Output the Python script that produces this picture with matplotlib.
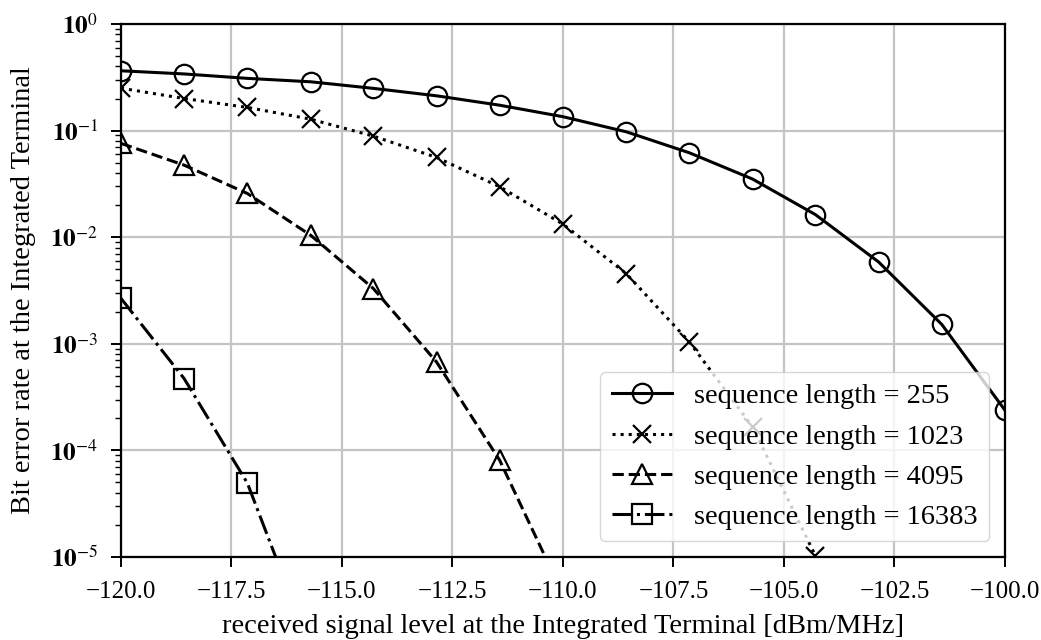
import matplotlib
matplotlib.use("Agg")
import matplotlib.pyplot as plt

plt.rcParams['font.family'] = ['Liberation Serif', 'DejaVu Serif']
plt.rcParams['mathtext.fontset'] = 'stix'

# received signal level [dBm/MHz] at marker positions (15 points, -120 .. -100)
x_pts = [-120.0, -118.57, -117.14, -115.71, -114.29, -112.86, -111.43, -110.0,
         -108.57, -107.14, -105.71, -104.29, -102.86, -101.43, -100.0]

ber_255 = [0.364, 0.34, 0.309, 0.287, 0.249, 0.212, 0.173, 0.135,
           0.0975, 0.0619, 0.0351, 0.0163, 0.00586, 0.00152, 2.38e-4]
ber_1023 = [0.25, 0.2, 0.165, 0.128, 0.0888, 0.056, 0.0297, 0.01325,
            0.00456, 0.00104, 1.66e-4, 1.03e-5]
ber_4095 = [0.0759, 0.0474, 0.0257, 0.01044, 0.0033, 6.75e-4, 8.05e-5]
ber_16383 = [0.00267, 4.71e-4, 4.93e-5]

# where the curves leave the bottom of the plot
end_4095 = (-110.4, 1e-5)
end_16383 = (-116.5, 1e-5)

labels = ["sequence length = 255", "sequence length = 1023",
          "sequence length = 4095", "sequence length = 16383"]

x_ticks = [-120, -117.5, -115, -112.5, -110, -107.5, -105, -102.5, -100]
y_exps = [0, -1, -2, -3, -4, -5]

fig = plt.figure(figsize=(10.41, 6.40), dpi=100)
ax = fig.add_axes([0.1162, 0.1297, 0.8492, 0.8328])

lw = 2.2
mew = 1.6
ax.plot(x_pts, ber_255, color='black', linestyle='-', linewidth=lw,
        marker='o', markersize=14, markerfacecolor='none', markeredgewidth=mew,
        label=labels[0])
ax.plot(x_pts[:len(ber_1023)], ber_1023, color='black', linestyle=':', linewidth=lw,
        marker='x', markersize=13, markeredgewidth=mew, label=labels[1])
x4 = x_pts[:len(ber_4095)] + [end_4095[0]]
y4 = ber_4095 + [end_4095[1]]
ax.plot(x4, y4, color='black', linestyle='--', linewidth=lw,
        marker='^', markersize=14, markerfacecolor='none', markeredgewidth=mew,
        markevery=list(range(len(ber_4095))), label=labels[2])
x16 = x_pts[:len(ber_16383)] + [end_16383[0]]
y16 = ber_16383 + [end_16383[1]]
ax.plot(x16, y16, color='black', linestyle='-.', linewidth=lw,
        marker='s', markersize=14, markerfacecolor='none', markeredgewidth=mew,
        markevery=list(range(len(ber_16383))), label=labels[3])

ax.set_yscale('log')
ax.set_xlim(-120, -100)
ax.set_ylim(1e-5, 1e0)
ax.set_xticks(x_ticks)
ax.set_xticklabels([f"\u2212{abs(v):.1f}" for v in x_ticks])
ax.set_yticks([10.0 ** e for e in y_exps])
ax.set_yticklabels([r'$\mathbf{10}^{%d}$' % e for e in y_exps])
ax.grid(True, which='major', color='#c4c4c4', linewidth=1.6)
ax.set_axisbelow(True)
for s in ax.spines.values():
    s.set_linewidth(1.6)
ax.tick_params(axis='x', which='major', labelsize=18, length=7.5, width=1.4, pad=10)
ax.tick_params(axis='y', which='major', labelsize=18, length=7.5, width=1.4, pad=9)
ax.tick_params(axis='y', which='minor', length=4, width=1.0)

ax.set_xlabel("received signal level at the Integrated Terminal [dBm/MHz]",
              fontsize=20.5, labelpad=8)
ax.set_ylabel("Bit error rate at the Integrated Terminal", fontsize=20.5, labelpad=10)

ax.legend(loc='lower right', fontsize=20.5, numpoints=1, handlelength=2.1,
          handletextpad=0.8, labelspacing=0.5, borderpad=0.4,
          framealpha=0.8, edgecolor='#cccccc', borderaxespad=0.55)

fig.savefig("out.png", dpi=100)
